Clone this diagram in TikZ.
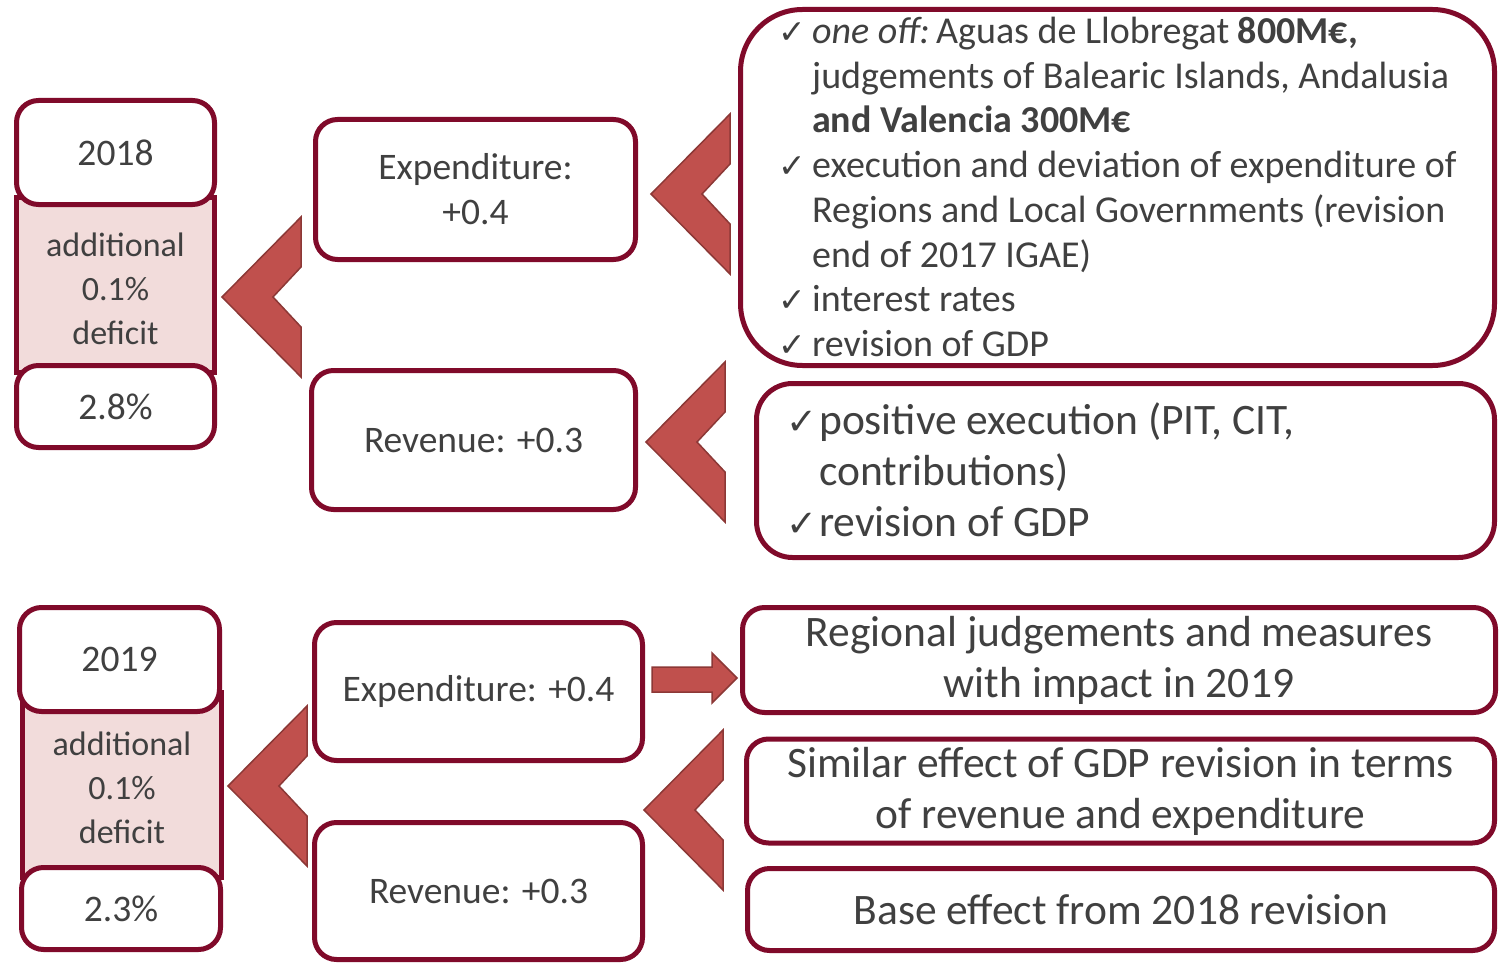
\documentclass[tikz,border=0pt]{standalone}
\usepackage{fontspec}
\setmainfont{Carlito}
\newfontfamily\symfont{DejaVu Sans}
\usetikzlibrary{calc}

\definecolor{frame}{RGB}{128,10,42}
\definecolor{pinkfill}{RGB}{242,220,219}
\definecolor{chevfill}{RGB}{192,80,77}
\definecolor{chevline}{RGB}{140,56,54}
\definecolor{ink}{RGB}{64,64,64}

% check mark with a fixed-width slot
\newcommand{\ck}{\makebox[34pt][l]{\smash{\symfont\fontsize{33}{33}\selectfont ✓}}}
\newcommand{\ckb}{\makebox[33pt][l]{\smash{\symfont\fontsize{37}{37}\selectfont ✓}}}

% left-pointing chevron: tip at (#1,#2)
\newcommand{\chevron}[2]{%
  \draw[chev] (#1,#2) -- ++(79,-80) -- ++(0,50) -- ++(-28,30)
    -- ++(28,30) -- ++(0,50) -- cycle;}

\begin{document}
\begin{tikzpicture}[x=1pt,y=-1pt,
  box/.style={draw=frame, line width=5pt, fill=white, rounded corners=22pt,
    text=ink, align=center, inner sep=0pt, font=\fontsize{37.5}{45}\selectfont},
  band/.style={draw=frame, line width=5pt, fill=pinkfill, inner sep=0pt},
  bandtext/.style={text=ink, align=center, font=\fontsize{34}{44}\selectfont},
  wide/.style={font=\fontsize{43.5}{51}\selectfont},
  chev/.style={fill=chevfill, draw=chevline, line width=1.5pt, line join=miter}]

\useasboundingbox (0,0) rectangle (1504,963);

% ---------------- 2018 ----------------
\node[band, minimum width=198pt, minimum height=175pt] (d18) at (115.5,285) {};
\node[bandtext] (d18t) at (115.5,289) {additional\\0.1\%\\deficit};
\node[box, minimum width=198pt, minimum height=104pt] (y18) at (115.5,152.5) {2018};
\node[box, minimum width=198pt, minimum height=82pt] (p18) at (115.5,406.5) {2.8\%};

\node[box, minimum width=320pt, minimum height=140pt] (e18) at (475.5,189.5) {Expenditure:\\+0.4};
\node[box, minimum width=324pt, minimum height=139pt] (r18) at (473.5,440) {Revenue: +0.3};

\node[box, rounded corners=62pt, minimum width=754pt, minimum height=356pt] (n18) at (1117.5,187.5) {};
\node[anchor=north west, text=ink, align=left, inner sep=0pt,
      font=\fontsize{38}{44.7}\selectfont] (n18t) at (778,17)
  {\ck\textit{one off:}\,Aguas de Llobregat \textbf{800M€,}\\
   \hspace*{34pt}judgements of Balearic Islands, Andalusia\\
   \hspace*{34pt}\textbf{and Valencia 300M€}\\
   \ck execution and deviation of expenditure of\\
   \hspace*{34pt}Regions and Local Governments (revision\\
   \hspace*{34pt}end of 2017 IGAE)\\
   \ck interest rates\\
   \ck revision of GDP};

\node[box, rounded corners=36pt, minimum width=738pt, minimum height=174pt] (m18) at (1125.5,470.5) {};
\node[anchor=north west, text=ink, align=left, inner sep=0pt, wide] (m18t) at (786,402)
  {\ckb positive execution (PIT, CIT,\\
   \hspace*{33pt}contributions)\\
   \ckb revision of GDP};

% ---------------- 2019 ----------------
\node[band, minimum width=199pt, minimum height=185pt] (d19) at (122,785) {};
\node[bandtext] (d19t) at (122,788) {additional\\0.1\%\\deficit};
\node[box, minimum width=200pt, minimum height=104pt] (y19) at (119.5,659.5) {2019};
\node[box, minimum width=199pt, minimum height=82pt] (p19) at (121,908.5) {2.3\%};

\node[box, minimum width=328pt, minimum height=138pt] (e19) at (478.5,691.5) {Expenditure: +0.4};
\node[box, minimum width=328pt, minimum height=137pt] (r19) at (478.5,891) {Revenue: +0.3};

\node[box, wide, minimum width=753pt, minimum height=105pt] (g19) at (1119,660)
  {Regional judgements and measures\\with impact in 2019};
\node[box, wide, minimum width=748pt, minimum height=104pt] (s19) at (1120.5,791)
  {Similar effect of GDP revision in terms\\of revenue and expenditure};
\node[box, wide, minimum width=747pt, minimum height=82pt] (b19) at (1121,909.5)
  {Base effect from 2018 revision};

% ---------------- chevrons and block arrow ----------------
\chevron{222}{297}
\chevron{651}{194}
\chevron{646}{442}
\chevron{228}{786}
\chevron{644}{810}

\coordinate (a0) at (652,667);
\draw[chev] (a0) -- ++(60,0) -- ++(0,-14) -- ++(25,25) -- ++(-25,25)
  -- ++(0,-11) -- ++(-60,0) -- cycle;
\end{tikzpicture}
\end{document}
